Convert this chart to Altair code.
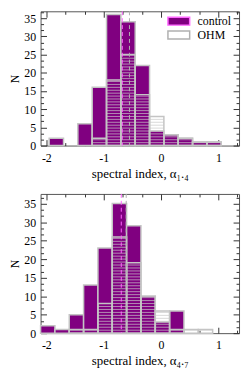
import altair as alt
import pandas as pd

PURPLE = "#800080"
EDGE = "#c4c4c4"
FONT = "Liberation Serif"

# ---- top panel: spectral index alpha 1.4 ----
edges_14 = [-1.95, -1.7, -1.45, -1.2, -0.95, -0.7, -0.45, -0.2, 0.05, 0.3, 0.55, 0.8, 1.05]
control_14 = [2, 0, 6, 16, 36, 34, 22, 4, 3, 2, 1, 1]
ohm_14 = [0, 0, 0, 2, 18, 25, 14, 8, 3, 2, 1, 1]
median_14 = [-0.675, -0.55]

# ---- bottom panel: spectral index alpha 4.7 ----
edges_47 = [-2.1, -1.85, -1.6, -1.35, -1.1, -0.85, -0.6, -0.35, -0.1, 0.15, 0.4, 0.65, 0.9]
control_47 = [2, 1, 5, 13, 23, 35, 29, 10, 3, 6, 0, 0]
ohm_47 = [0, 0, 1, 1, 8, 26, 19, 10, 6, 1, 1, 1]
median_47 = [-0.693, -0.607]

groups = ["control", "OHM"]
x_major = [-2, -1, 0, 1]
x_minor = [-5 / 3, -4 / 3, -2 / 3, -1 / 3, 1 / 3, 2 / 3, 4 / 3]
y_major = [0, 5, 10, 15, 20, 25, 30, 35]
y_minor = [k * 5 / 3 for k in range(1, 23) if k % 3]
STRIPE = 0.8
W = 201
XDOM = [-2.1, 1.36]

CTRL_PATH = "M-2.2,-0.8H2.2V0.8H-2.2Z"


def tick_axis(orient, offset, values, size):
    return alt.Axis(orient=orient, offset=offset, values=values, tickSize=size,
                    labels=False, domain=False, grid=False, ticks=True,
                    tickColor="#333333", tickWidth=1, title=None)


def panel(edges, control, ohm, medians, H, ymax, title, with_legend):
    xs = alt.Scale(domain=XDOM, nice=False, zero=False)
    ys = alt.Scale(domain=[0, ymax], nice=False)
    bins = pd.DataFrame({"x0": edges[:-1], "x1": edges[1:], "control": control, "ohm": ohm})
    ctrl = bins[bins.control > 0].assign(group="control")
    oh = bins[bins.ohm > 0]
    rows = []
    for r in oh.itertuples():
        k = 1
        while STRIPE * k < r.ohm - 0.15:
            rows.append({"x0": r.x0, "x1": r.x1, "y": STRIPE * k})
            k += 1
    stripes = pd.DataFrame(rows)
    med = pd.DataFrame({"group": groups, "x": medians})

    x_lab = alt.Axis(orient="bottom", values=x_major, ticks=False, domain=False, grid=False,
                     labelExpr="'' + datum.value", labelFont=FONT, labelFontSize=12,
                     labelColor="black", labelPadding=7, title=title, titleFont=FONT,
                     titleFontSize=13, titleFontWeight="normal", titleColor="black",
                     titlePadding=4)
    y_lab = alt.Axis(orient="left", values=y_major, ticks=False, domain=False, grid=False,
                     labelExpr="'' + datum.value", labelFont=FONT, labelFontSize=12,
                     labelColor="black", labelPadding=5, title="N", titleFont=FONT,
                     titleFontSize=12, titleFontWeight="normal", titleColor="black",
                     titlePadding=2)

    if with_legend:
        fill = alt.Fill("group:N", scale=alt.Scale(domain=groups, range=[PURPLE, "white"]),
                        legend=alt.Legend(orient="none", legendX=134, legendY=4, title=None,
                                          symbolType=CTRL_PATH, symbolSize=100,
                                          symbolStrokeColor=EDGE, symbolStrokeWidth=1.5,
                                          symbolOpacity=1, labelFont=FONT, labelFontSize=12,
                                          labelColor="black", labelOffset=13, rowPadding=0,
                                          padding=0))
        a = alt.Chart(ctrl).mark_bar(stroke=EDGE, strokeWidth=1.5).encode(
            x=alt.X("x0:Q", scale=xs, axis=x_lab), x2="x1:Q",
            y=alt.Y("control:Q", scale=ys, axis=y_lab), y2=alt.datum(0), fill=fill)
    else:
        a = alt.Chart(ctrl).mark_bar(stroke=EDGE, strokeWidth=1.5, fill=PURPLE).encode(
            x=alt.X("x0:Q", scale=xs, axis=x_lab), x2="x1:Q",
            y=alt.Y("control:Q", scale=ys, axis=y_lab), y2=alt.datum(0))
    b = alt.Chart(oh).mark_bar(fillOpacity=0, stroke=EDGE, strokeWidth=1.5).encode(
        x=alt.X("x0:Q", scale=xs, axis=tick_axis("top", -H, x_major, 6)), x2="x1:Q",
        y=alt.Y("ohm:Q", scale=ys, axis=tick_axis("right", -W, y_major, 6)), y2=alt.datum(0))
    c = alt.Chart(stripes).mark_rule(stroke="#c8c8c8", strokeWidth=1, opacity=0.7).encode(
        x=alt.X("x0:Q", scale=xs, axis=tick_axis("bottom", -H, x_major, 6)), x2="x1:Q",
        y=alt.Y("y:Q", scale=ys, axis=tick_axis("left", -W, y_major, 6)))
    d = alt.Chart(med).mark_rule(strokeDash=[4, 3], strokeWidth=1).encode(
        x=alt.X("x:Q", scale=xs, axis=tick_axis("top", -H, x_minor, 3)),
        stroke=alt.Stroke("group:N", scale=alt.Scale(domain=groups, range=["#ff66ff", "#b0b0b0"]),
                          legend=None))
    e = alt.Chart(ctrl).mark_point(opacity=0).encode(
        x=alt.X("x0:Q", scale=xs, axis=tick_axis("bottom", -H, x_minor, 3)),
        y=alt.Y("control:Q", scale=ys, axis=tick_axis("right", -W, y_minor, 3)))
    f = alt.Chart(ctrl).mark_point(opacity=0).encode(
        x=alt.X("x0:Q", scale=xs, axis=None),
        y=alt.Y("control:Q", scale=ys, axis=tick_axis("left", -W, y_minor, 3)))
    return alt.layer(a, b, c, d, e, f).resolve_axis(x="independent", y="independent").properties(
        width=W, height=H)


top = panel(edges_14, control_14, ohm_14, median_14, 136, 36.9, "spectral index, α₁.₄", True)
bottom = panel(edges_47, control_47, ohm_47, median_47, 141, 37.6, "spectral index, α₄.₇", False)

chart = alt.vconcat(top, bottom, spacing=12).properties(
    padding={"left": 0, "top": 0, "right": 1, "bottom": 0}
).configure_view(stroke="#555555", strokeWidth=1)

chart.save("out.html", embed_options={"renderer": "svg", "actions": False})
